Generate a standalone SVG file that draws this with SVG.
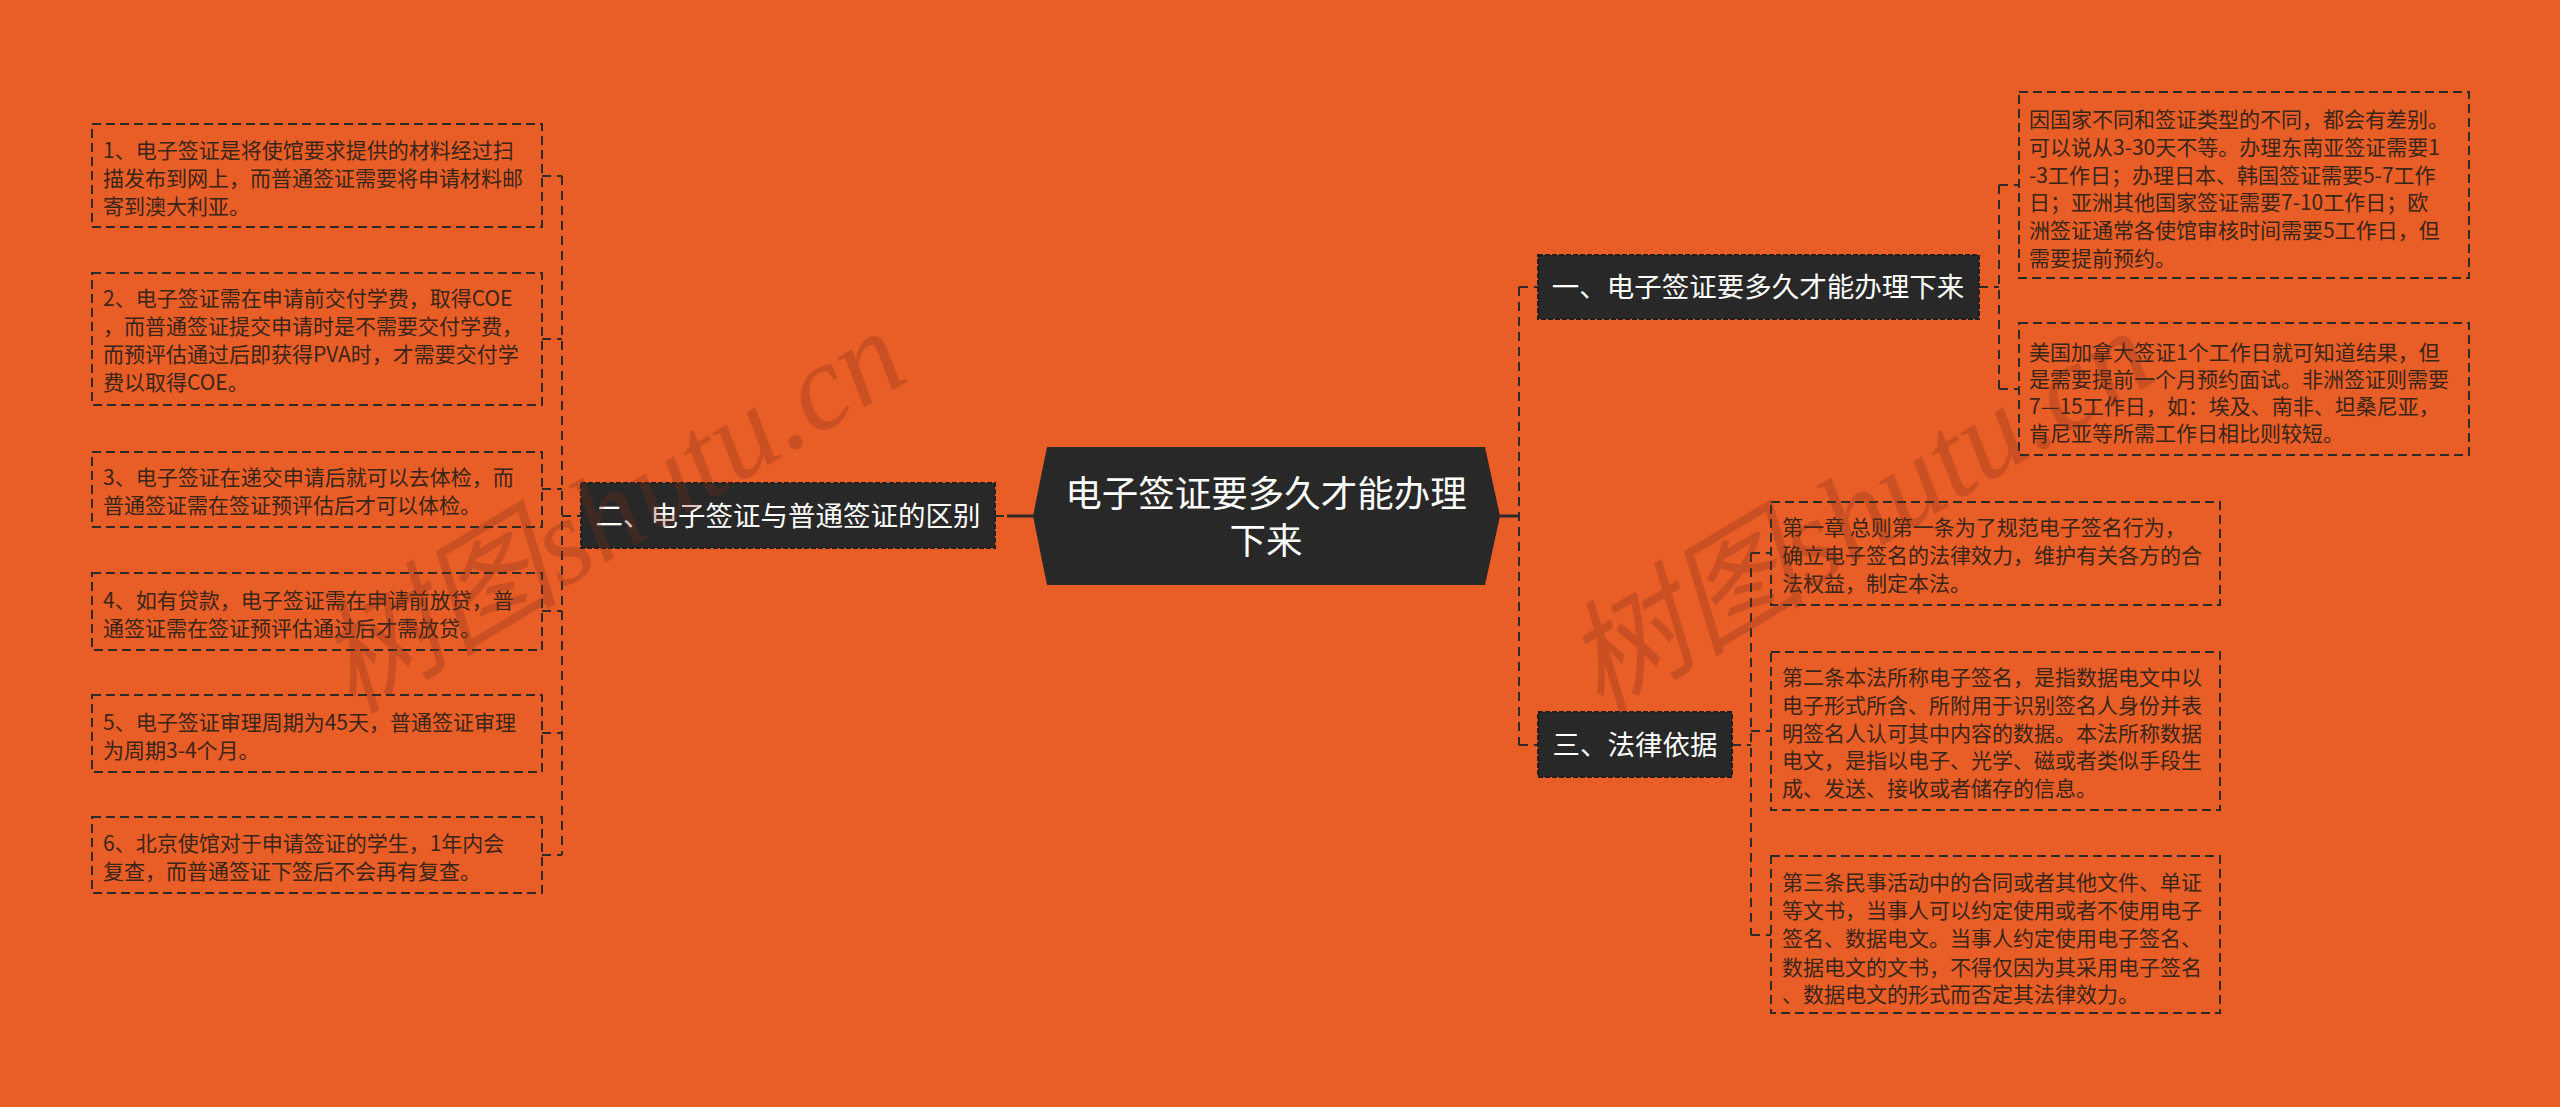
<svg xmlns="http://www.w3.org/2000/svg" width="2560" height="1107" viewBox="0 0 2560 1107">
<style>
.bg{fill:#E95D27}
.box{fill:none;stroke:#2e2a28;stroke-width:2;stroke-dasharray:9 5}
.bt{font-family:"Noto Sans CJK SC","Noto Sans",sans-serif;font-size:21px;fill:#3a2519}
.node{fill:#282828;stroke:#1e1e1e;stroke-width:2;stroke-dasharray:5 2}
.nt{font-family:"Noto Sans CJK SC","Noto Sans",sans-serif;font-size:27.5px;fill:#ffffff;text-anchor:middle}
.ct{font-family:"Noto Sans CJK SC","Noto Sans",sans-serif;font-size:36.5px;fill:#ffffff;text-anchor:middle}
.cn{fill:none;stroke:#2e2a28;stroke-width:2;stroke-dasharray:9 6}
.cs{fill:none;stroke:#2e2a28;stroke-width:3}
.wm{font-family:"Liberation Serif","Noto Sans CJK SC",serif;font-style:italic;font-size:122px;fill:#7a3018;fill-opacity:0.28}
</style>
<rect class="bg" x="0" y="0" width="2560" height="1107"/>

<g id="connectors">
  <path class="cn" d="M562 176V855"/>
  <path class="cn" d="M542 176H562M542 339H562M542 489H562M542 611H562M542 733H562M542 855H562M562 516H581"/>
  <path class="cn" d="M995 516H1004"/>
  <path class="cs" d="M1007 516H1033"/>
  <path class="cs" d="M1500 516H1519"/>
  <path class="cn" d="M1519 287V745M1519 287H1538M1519 745H1538"/>
  <path class="cn" d="M1999 185V389M1979 287H1999M1999 185H2019M1999 389H2019"/>
  <path class="cn" d="M1751 553V935M1732 745H1751M1751 553H1771M1751 731H1771M1751 935H1771"/>
</g>

<g id="root">
  <polygon points="1033,516 1047,447 1485,447 1500,516 1485,585 1047,585" fill="#282828"/>
  <text class="ct" x="1266" y="507">电子签证要多久才能办理</text>
  <text class="ct" x="1266" y="554">下来</text>
</g>

<g id="n2">
  <rect class="node" x="581" y="483" width="414" height="65"/>
  <text class="nt" x="788" y="526">二、电子签证与普通签证的区别</text>
</g>
<g id="n1">
  <rect class="node" x="1538" y="255" width="441" height="64"/>
  <text class="nt" x="1758" y="297">一、电子签证要多久才能办理下来</text>
</g>
<g id="n3">
  <rect class="node" x="1538" y="712" width="194" height="65"/>
  <text class="nt" x="1635" y="755">三、法律依据</text>
</g>

<g id="l1">
  <rect class="box" x="92" y="124" width="450" height="103"/>
  <text class="bt"><tspan x="103" y="158">1、电子签证是将使馆要求提供的材料经过扫</tspan><tspan x="103" y="186">描发布到网上，而普通签证需要将申请材料邮</tspan><tspan x="103" y="214">寄到澳大利亚。</tspan></text>
</g>
<g id="l2">
  <rect class="box" x="92" y="273" width="450" height="132"/>
  <text class="bt"><tspan x="103" y="306">2、电子签证需在申请前交付学费，取得COE</tspan><tspan x="103" y="334">，而普通签证提交申请时是不需要交付学费，</tspan><tspan x="103" y="362">而预评估通过后即获得PVA时，才需要交付学</tspan><tspan x="103" y="390">费以取得COE。</tspan></text>
</g>
<g id="l3">
  <rect class="box" x="92" y="452" width="450" height="75"/>
  <text class="bt"><tspan x="103" y="485">3、电子签证在递交申请后就可以去体检，而</tspan><tspan x="103" y="513">普通签证需在签证预评估后才可以体检。</tspan></text>
</g>
<g id="l4">
  <rect class="box" x="92" y="573" width="450" height="77"/>
  <text class="bt"><tspan x="103" y="608">4、如有贷款，电子签证需在申请前放贷，普</tspan><tspan x="103" y="636">通签证需在签证预评估通过后才需放贷。</tspan></text>
</g>
<g id="l5">
  <rect class="box" x="92" y="695" width="450" height="77"/>
  <text class="bt"><tspan x="103" y="730">5、电子签证审理周期为45天，普通签证审理</tspan><tspan x="103" y="758">为周期3-4个月。</tspan></text>
</g>
<g id="l6">
  <rect class="box" x="92" y="817" width="450" height="76"/>
  <text class="bt"><tspan x="103" y="851">6、北京使馆对于申请签证的学生，1年内会</tspan><tspan x="103" y="879">复查，而普通签证下签后不会再有复查。</tspan></text>
</g>

<g id="r1">
  <rect class="box" x="2019" y="92" width="450" height="186"/>
  <text class="bt"><tspan x="2029" y="127">因国家不同和签证类型的不同，都会有差别。</tspan><tspan x="2029" y="155">可以说从3-30天不等。办理东南亚签证需要1</tspan><tspan x="2029" y="183">-3工作日；办理日本、韩国签证需要5-7工作</tspan><tspan x="2029" y="210">日；亚洲其他国家签证需要7-10工作日；欧</tspan><tspan x="2029" y="238">洲签证通常各使馆审核时间需要5工作日，但</tspan><tspan x="2029" y="266">需要提前预约。</tspan></text>
</g>
<g id="r2">
  <rect class="box" x="2019" y="323" width="450" height="132"/>
  <text class="bt"><tspan x="2029" y="360">美国加拿大签证1个工作日就可知道结果，但</tspan><tspan x="2029" y="387">是需要提前一个月预约面试。非洲签证则需要</tspan><tspan x="2029" y="414">7—15工作日，如：埃及、南非、坦桑尼亚，</tspan><tspan x="2029" y="441">肯尼亚等所需工作日相比则较短。</tspan></text>
</g>
<g id="r3">
  <rect class="box" x="1771" y="502" width="449" height="103"/>
  <text class="bt"><tspan x="1782" y="535">第一章 总则第一条为了规范电子签名行为，</tspan><tspan x="1782" y="563">确立电子签名的法律效力，维护有关各方的合</tspan><tspan x="1782" y="591">法权益，制定本法。</tspan></text>
</g>
<g id="r4">
  <rect class="box" x="1771" y="652" width="449" height="158"/>
  <text class="bt"><tspan x="1782" y="685">第二条本法所称电子签名，是指数据电文中以</tspan><tspan x="1782" y="713">电子形式所含、所附用于识别签名人身份并表</tspan><tspan x="1782" y="741">明签名人认可其中内容的数据。本法所称数据</tspan><tspan x="1782" y="768">电文，是指以电子、光学、磁或者类似手段生</tspan><tspan x="1782" y="796">成、发送、接收或者储存的信息。</tspan></text>
</g>
<g id="r5">
  <rect class="box" x="1771" y="856" width="449" height="157"/>
  <text class="bt"><tspan x="1782" y="890">第三条民事活动中的合同或者其他文件、单证</tspan><tspan x="1782" y="918">等文书，当事人可以约定使用或者不使用电子</tspan><tspan x="1782" y="946">签名、数据电文。当事人约定使用电子签名、</tspan><tspan x="1782" y="975">数据电文的文书，不得仅因为其采用电子签名</tspan><tspan x="1782" y="1002">、数据电文的形式而否定其法律效力。</tspan></text>
</g>

<text class="wm" x="352" y="715" transform="rotate(-31 352 715)">树图shutu.cn</text>
<text class="wm" x="1600" y="715" transform="rotate(-31 1600 715)">树图shutu.cn</text>
</svg>
